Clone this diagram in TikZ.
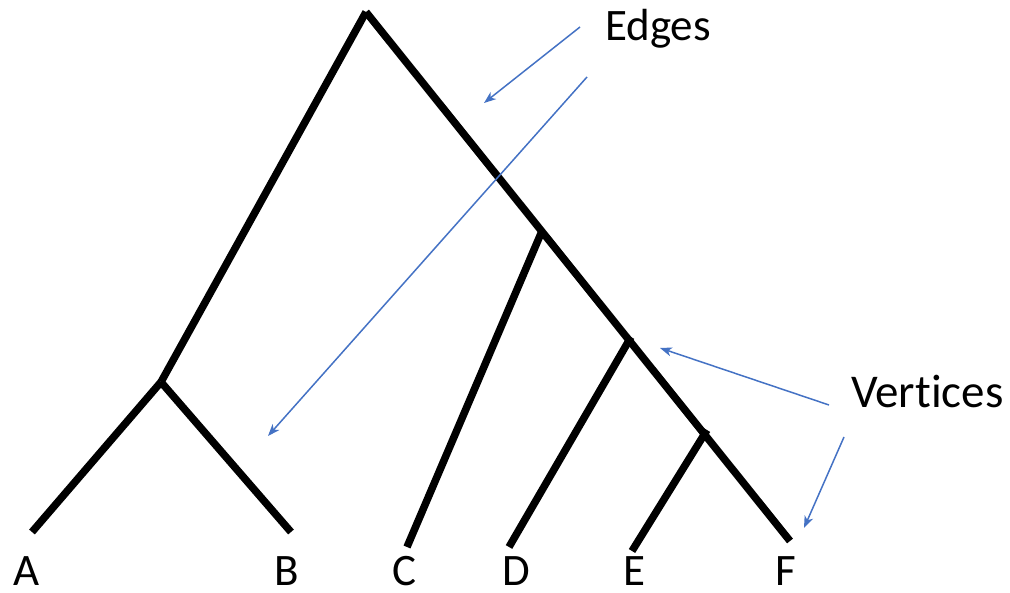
\documentclass[tikz,border=0pt]{standalone}
\usepackage{fontspec}
\setmainfont{Carlito}[Ligatures=NoCommon]
\usetikzlibrary{arrows.meta}
\definecolor{arrowblue}{RGB}{68,114,196}
\begin{document}
\begin{tikzpicture}[x=1pt,y=-1pt,
  branch/.style={line width=7.5pt,line cap=butt,black},
  pointer/.style={line width=1.5pt,arrowblue,-{Stealth[length=12pt,width=9pt,inset=3.5pt]}},
  leaflabel/.style={anchor=base,font=\fontsize{45}{48}\selectfont,inner sep=0pt},
  callout/.style={anchor=base west,font=\fontsize{45}{48}\selectfont,inner sep=0pt}]
\useasboundingbox (0,0) rectangle (1010,593);
% vertices
\coordinate (root) at (366,12);
\coordinate (vab) at (161,382);
\coordinate (vc) at (542,231);
\coordinate (vd) at (631,337);
\coordinate (ve) at (707,430);
% leaves
\coordinate (a) at (32,532);
\coordinate (b) at (291,532);
\coordinate (c) at (407,547);
\coordinate (d) at (509,547);
\coordinate (e) at (632,551);
\coordinate (f) at (790,541);
% edges
\draw[branch] (root) -- (vab);
\draw[branch] (root) -- (f);
\draw[branch] (vab) -- (a);
\draw[branch] (vab) -- (b);
\draw[branch] (vc) -- (c);
\draw[branch] (vd) -- (d);
\draw[branch] (ve) -- (e);
% leaf labels
\node[leaflabel] (la) at (27,585) {A};
\node[leaflabel] (lb) at (287,585) {B};
\node[leaflabel] (lc) at (404,585) {C};
\node[leaflabel] (ld) at (516,585) {D};
\node[leaflabel] (le) at (634,585) {E};
\node[leaflabel] (lf) at (786,585) {F};
% callouts
\node[callout] (edges) at (605,41) {Edges};
\node[callout,font=\fontsize{47}{50}\selectfont] (vertices) at (851,408) {Vertices};
\coordinate (e1s) at (580,27);
\coordinate (e1t) at (484,103);
\coordinate (e2s) at (587,77);
\coordinate (e2t) at (268,436);
\coordinate (v1s) at (829,405);
\coordinate (v1t) at (660,348);
\coordinate (v2s) at (844,437);
\coordinate (v2t) at (804,528);
\draw[pointer] (e1s) -- (e1t);
\draw[pointer] (e2s) -- (e2t);
\draw[pointer] (v1s) -- (v1t);
\draw[pointer] (v2s) -- (v2t);
\end{tikzpicture}
\end{document}
